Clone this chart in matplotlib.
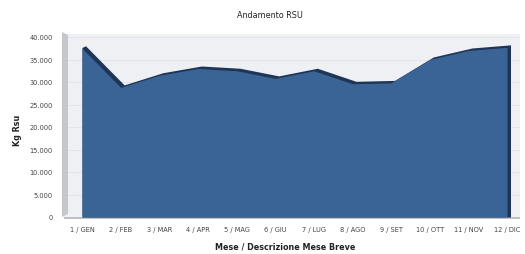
import matplotlib
matplotlib.use("Agg")
import matplotlib.pyplot as plt
from matplotlib.patches import Polygon
from matplotlib.ticker import FuncFormatter, MultipleLocator

months = ["1 / GEN", "2 / FEB", "3 / MAR", "4 / APR", "5 / MAG", "6 / GIU",
          "7 / LUG", "8 / AGO", "9 / SET", "10 / OTT", "11 / NOV", "12 / DIC"]
kg_rsu = [37500, 28800, 31500, 33000, 32500, 30800, 32500, 29600, 29800, 35000, 37000, 37700]

W, H = 525, 255
fig = plt.figure(figsize=(W / 100, H / 100), dpi=100)
fig.patch.set_facecolor("white")

L, R, B, T = 64, 520, 220, 35
ax = fig.add_axes([L / W, (H - B) / H, (R - L) / W, (B - T) / H])
ax.set_facecolor("#eef0f4")

x = list(range(len(months)))
pxu = (507 - 82) / 11.0
ax.set_xlim(-(82 - L) / pxu, 11 + (R - 507) / pxu)
ypx = 180 / 40000
ax.set_ylim(-(B - 218) / ypx, 40000 + (38 - T) / ypx)

# grid on back wall
for g in range(5000, 40001, 5000):
    ax.axhline(g, color="#e2e4ea", lw=0.6, zorder=0)

dx, dy = 3.5 / pxu, 2.5 / ypx
bx = [0] + [v + dx for v in x]
by = [kg_rsu[0] + dy * 0.3] + [v + dy for v in kg_rsu]
ax.fill_between(bx, by, 0, color="#1e3556", lw=0, zorder=2)
ax.fill_between(x, kg_rsu, 0, color="#3a6496", lw=0, zorder=3)

# floor
ax.axhspan(ax.get_ylim()[0], 0, color="#c0c1c6", zorder=1, lw=0)

for s in ax.spines.values():
    s.set_visible(False)

# left wall
fig.patches.append(Polygon([(62 / W, (H - 218) / H), (68 / W, (H - 215) / H),
                            (68 / W, (H - 36) / H), (62 / W, (H - 33) / H)],
                           closed=True, transform=fig.transFigure,
                           facecolor="#c6c7cc", edgecolor="none", zorder=5))

ax.yaxis.set_major_locator(MultipleLocator(5000))
ax.yaxis.set_major_formatter(FuncFormatter(lambda v, p: f"{int(v):,}".replace(",", ".")))
ax.set_xticks(x)
ax.set_xticklabels(months)
ax.tick_params(axis="both", length=0, labelsize=4.8, colors="#444444")
ax.tick_params(axis="y", pad=8)
ax.tick_params(axis="x", pad=5)

fig.text(270 / W, 1 - 15 / H, "Andamento RSU", ha="center", va="center",
         fontsize=5.8, color="#222222")
fig.text(18 / W, 1 - 130 / H, "Kg Rsu", ha="center", va="center", rotation=90,
         fontsize=5.8, fontweight="bold", color="#222222")
fig.text(285 / W, 1 - 247 / H, "Mese / Descrizione Mese Breve", ha="center",
         va="center", fontsize=5.8, fontweight="bold", color="#222222")

fig.savefig("out.png", dpi=100)
